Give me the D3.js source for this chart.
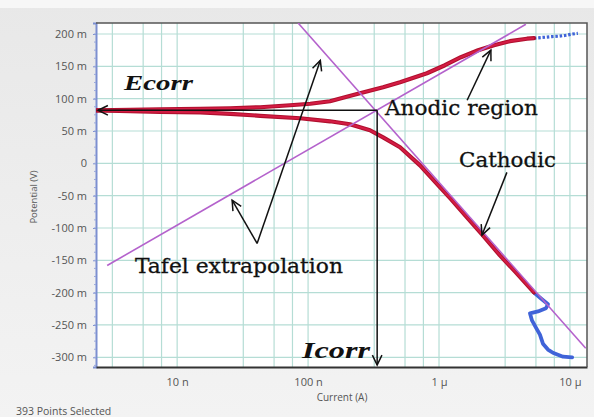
<!DOCTYPE html>
<html>
<head>
<meta charset="utf-8">
<script src="https://cdn.jsdelivr.net/npm/d3@7"></script>
<style>
  body { margin: 0; background: #ececec; }
  svg { display: block; }
</style>
</head>
<body>
<div id="chart"></div>
<script>
// tick values and labels
const currentTicks = [1e-8, 1e-7, 1e-6, 1e-5];
const currentLabels = ["10 n", "100 n", "1 \u00b5", "10 \u00b5"];
const potentialTicks = [0.2, 0.15, 0.1, 0.05, 0, -0.05, -0.1, -0.15, -0.2, -0.25, -0.3];
const potentialLabels = ["200 m", "150 m", "100 m", "50 m", "0", "-50 m", "-100 m", "-150 m", "-200 m", "-250 m", "-300 m"];

// anodic branch (red) and its tail (blue)
const anodicCurrent = [2.45e-9, 4.38e-9, 7.41e-9, 1.50e-8, 2.54e-8, 4.31e-8, 7.29e-8, 1.04e-7, 1.47e-7, 1.91e-7, 2.49e-7, 3.74e-7, 5.04e-7, 8.09e-7, 1.11e-6, 1.47e-6, 1.99e-6, 2.63e-6, 3.48e-6, 4.70e-6, 5.31e-6];
const anodicPotential = [0.0820, 0.0828, 0.0836, 0.0844, 0.0851, 0.0867, 0.0898, 0.0921, 0.0960, 0.1022, 0.1084, 0.1176, 0.1254, 0.1393, 0.1517, 0.1641, 0.1749, 0.1827, 0.1889, 0.1927, 0.1935];
const anodicTailCurrent = [5.31e-6, 5.70e-6, 6.45e-6, 7.29e-6, 8.24e-6, 9.31e-6, 1.05e-5, 1.15e-5];
const anodicTailPotential = [0.1935, 0.1940, 0.1950, 0.1960, 0.1966, 0.1980, 0.2000, 0.2010];

// cathodic branch (red) and its tail (blue)
const cathodicCurrent = [2.45e-9, 4.38e-9, 7.41e-9, 1.50e-8, 2.54e-8, 4.31e-8, 8.69e-8, 1.47e-7, 2.09e-7, 2.49e-7, 2.97e-7, 3.74e-7, 5.04e-7, 7.16e-7, 1.02e-6, 1.24e-6, 1.61e-6, 2.13e-6, 2.92e-6, 3.80e-6, 5.31e-6];
const cathodicPotential = [0.0820, 0.0805, 0.0797, 0.0789, 0.0766, 0.0735, 0.0697, 0.0650, 0.0604, 0.0557, 0.0511, 0.0402, 0.0248, -0.0031, -0.0372, -0.0557, -0.0820, -0.1099, -0.1424, -0.1672, -0.1997];
const cathodicTailCurrent = [5.31e-6, 6.01e-6, 6.80e-6, 6.56e-6, 5.70e-6, 4.95e-6, 5.13e-6, 5.50e-6, 5.90e-6, 6.22e-6, 6.79e-6, 7.41e-6, 8.85e-6, 1.04e-5];
const cathodicTailPotential = [-0.1997, -0.209, -0.218, -0.224, -0.229, -0.232, -0.243, -0.254, -0.265, -0.279, -0.288, -0.293, -0.299, -0.300];

// Tafel extrapolation lines
const anodicTafelCurrent = [2.92e-9, 4.61e-6];
const anodicTafelPotential = [-0.158, 0.215];
const cathodicTafelCurrent = [8.39e-8, 1.32e-5];
const cathodicTafelPotential = [0.217, -0.286];

const Ecorr = 0.082;
const Icorr = 3.37e-7;

const width = 594, height = 417;
const margin = { top: 23, right: 7, bottom: 50, left: 96 };

const svg = d3.select("#chart").append("svg")
  .attr("width", width)
  .attr("height", height);

const defs = svg.append("defs");
const bg = defs.append("linearGradient").attr("id", "bg").attr("x1", 0).attr("y1", 0).attr("x2", 0).attr("y2", 1);
bg.append("stop").attr("offset", "0%").attr("stop-color", "#e8e8e8");
bg.append("stop").attr("offset", "100%").attr("stop-color", "#f3f3f3");
defs.append("clipPath").attr("id", "clip").append("rect")
  .attr("x", margin.left).attr("y", margin.top)
  .attr("width", width - margin.left - margin.right)
  .attr("height", height - margin.top - margin.bottom);

svg.append("rect").attr("width", width).attr("height", height).attr("fill", "url(#bg)");
svg.append("rect").attr("width", width).attr("height", 8).attr("fill", "#f7f7f7");

const x = d3.scaleLog().domain([2.4e-9, 1.35e-5]).range([margin.left, width - margin.right]);
const y = d3.scaleLinear().domain([-0.315, 0.217]).range([height - margin.bottom, margin.top]);

svg.append("rect")
  .attr("x", margin.left).attr("y", margin.top)
  .attr("width", x.range()[1] - margin.left)
  .attr("height", y.range()[0] - margin.top)
  .attr("fill", "#fff");

// grid
const gridCurrents = [];
[-9, -8, -7, -6, -5].forEach(k => {
  [1, 3.2, 5.5, 7.6].forEach(m => gridCurrents.push(m * Math.pow(10, k)));
});
const grid = svg.append("g").attr("clip-path", "url(#clip)");
grid.selectAll(".vgrid")
  .data(gridCurrents.filter(d => d > x.domain()[0] && d < x.domain()[1]))
  .enter().append("line")
  .attr("x1", d => x(d)).attr("x2", d => x(d))
  .attr("y1", margin.top).attr("y2", y.range()[0])
  .attr("stroke", "#b5ddd5").attr("stroke-width", 1.2);
grid.selectAll(".hgrid")
  .data(potentialTicks)
  .enter().append("line")
  .attr("x1", margin.left).attr("x2", x.range()[1])
  .attr("y1", d => y(d)).attr("y2", d => y(d))
  .attr("stroke", "#b5ddd5").attr("stroke-width", 1.2);

// axes
const yAxis = svg.append("g")
  .attr("transform", `translate(${margin.left},0)`)
  .call(d3.axisLeft(y).tickValues(potentialTicks).tickFormat((d, i) => potentialLabels[i]).tickSize(3).tickPadding(6));
yAxis.select(".domain").attr("stroke", "#7c8fd0").attr("stroke-width", 2);
yAxis.selectAll(".tick line").attr("stroke", "#7c8fd0");
yAxis.selectAll("text").attr("fill", "#555").style("font", "11px 'Open Sans', sans-serif");

svg.append("g").selectAll("line")
  .data(d3.range(-0.3125, 0.2125, 0.0125))
  .enter().append("line")
  .attr("x1", margin.left - 2).attr("x2", margin.left)
  .attr("y1", d => y(d)).attr("y2", d => y(d))
  .attr("stroke", "#9aa8dc");

const xAxis = svg.append("g")
  .attr("transform", `translate(0,${y.range()[0]})`)
  .call(d3.axisBottom(x).tickValues(currentTicks).tickFormat((d, i) => currentLabels[i]).tickSize(0).tickPadding(11));
xAxis.select(".domain").attr("stroke", "#333").attr("stroke-width", 2);
xAxis.selectAll("text").attr("fill", "#555").style("font", "11px 'Open Sans', sans-serif");

// plot border top / right
svg.append("path")
  .attr("d", `M${margin.left},${margin.top}H${x.range()[1]}V${y.range()[0]}`)
  .attr("fill", "none").attr("stroke", "#555").attr("stroke-width", 1.5);

svg.append("text")
  .attr("transform", `translate(37,${(margin.top + y.range()[0]) / 2 + 2}) rotate(-90)`)
  .attr("text-anchor", "middle")
  .attr("fill", "#555")
  .style("font", "9.5px 'Open Sans', sans-serif")
  .text("Potential (V)");

svg.append("text")
  .attr("x", 342).attr("y", 401)
  .attr("text-anchor", "middle")
  .attr("fill", "#555")
  .style("font", "10px 'Open Sans', sans-serif")
  .text("Current (A)");

svg.append("text")
  .attr("x", 16).attr("y", 415)
  .attr("fill", "#555")
  .style("font", "10.5px 'Open Sans', sans-serif")
  .text("393 Points Selected");

// curves
const line = d3.line().x(d => x(d[0])).y(d => y(d[1])).curve(d3.curveLinear);
const zipped = (a, b) => a.map((v, i) => [v, b[i]]);
const plot = svg.append("g").attr("clip-path", "url(#clip)");

plot.append("path")
  .attr("d", line(zipped(cathodicTailCurrent, cathodicTailPotential)))
  .attr("fill", "none").attr("stroke", "#3f63d8").attr("stroke-width", 3.8)
  .attr("stroke-linejoin", "round").attr("stroke-linecap", "round");
plot.append("path")
  .attr("d", line(zipped(anodicTailCurrent, anodicTailPotential)))
  .attr("fill", "none").attr("stroke", "#3f63d8").attr("stroke-width", 3.2)
  .attr("stroke-dasharray", "2.5,1.8");

[[anodicCurrent, anodicPotential], [cathodicCurrent, cathodicPotential]].forEach(([c, p]) => {
  plot.append("path")
    .attr("d", line(zipped(c, p)))
    .attr("fill", "none").attr("stroke", "#b0102e").attr("stroke-width", 4.2)
    .attr("stroke-linejoin", "round").attr("stroke-linecap", "round");
  plot.append("path")
    .attr("d", line(zipped(c, p)))
    .attr("fill", "none").attr("stroke", "#d41c44").attr("stroke-width", 2)
    .attr("stroke-linejoin", "round");
});

[[anodicTafelCurrent, anodicTafelPotential], [cathodicTafelCurrent, cathodicTafelPotential]].forEach(([c, p]) => {
  plot.append("path")
    .attr("d", line(zipped(c, p)))
    .attr("fill", "none").attr("stroke", "#b462cc").attr("stroke-width", 1.6);
});

// annotations
const ann = svg.append("g").attr("stroke", "#111").attr("fill", "none").attr("stroke-width", 1.5);
function arrow(x1, y1, x2, y2) {
  ann.append("line").attr("x1", x1).attr("y1", y1).attr("x2", x2).attr("y2", y2);
  const a = Math.atan2(y2 - y1, x2 - x1), L = 11, w = 0.45;
  ann.append("path")
    .attr("d", `M${x2 - L * Math.cos(a - w)},${y2 - L * Math.sin(a - w)}L${x2},${y2}L${x2 - L * Math.cos(a + w)},${y2 - L * Math.sin(a + w)}`);
}
const cx = x(Icorr), cy = y(Ecorr);
arrow(cx, cy, margin.left + 2, cy);
arrow(cx, cy, cx, y.range()[0] - 2);

// Tafel extrapolation arrows
const vertex = [x(4.08e-8), y(-0.124)];
arrow(vertex[0], vertex[1], x(1.24e-7), y(0.159));
arrow(vertex[0], vertex[1], x(2.63e-8), y(-0.057));
// anodic region / cathodic arrows
arrow(x(1.64e-6), y(0.0975), x(2.49e-6), y(0.175));
arrow(x(3.30e-6), y(-0.014), x(2.13e-6), y(-0.111));

const serif = "'DejaVu Serif', serif";
svg.append("text").attr("x", 124).attr("y", 90)
  .attr("textLength", 69).attr("lengthAdjust", "spacingAndGlyphs")
  .style("font", `italic bold 22px 'Liberation Serif', serif`)
  .attr("fill", "#111").text("Ecorr");
svg.append("text").attr("x", 302).attr("y", 358)
  .attr("textLength", 68).attr("lengthAdjust", "spacingAndGlyphs")
  .style("font", `italic bold 23px 'Liberation Serif', serif`)
  .attr("fill", "#111").text("Icorr");
svg.append("text").attr("x", 385).attr("y", 115)
  .attr("textLength", 153).attr("lengthAdjust", "spacingAndGlyphs")
  .style("font", `21px ${serif}`).attr("fill", "#111")
  .attr("stroke", "#111").attr("stroke-width", 0.3)
  .text("Anodic region");
svg.append("text").attr("x", 459).attr("y", 167)
  .attr("textLength", 97).attr("lengthAdjust", "spacingAndGlyphs")
  .style("font", `21px ${serif}`).attr("fill", "#111")
  .attr("stroke", "#111").attr("stroke-width", 0.3)
  .text("Cathodic");
svg.append("text").attr("x", 135).attr("y", 273)
  .attr("textLength", 208).attr("lengthAdjust", "spacingAndGlyphs")
  .style("font", `21px ${serif}`).attr("fill", "#111")
  .attr("stroke", "#111").attr("stroke-width", 0.3)
  .text("Tafel extrapolation");
</script>
</body>
</html>
